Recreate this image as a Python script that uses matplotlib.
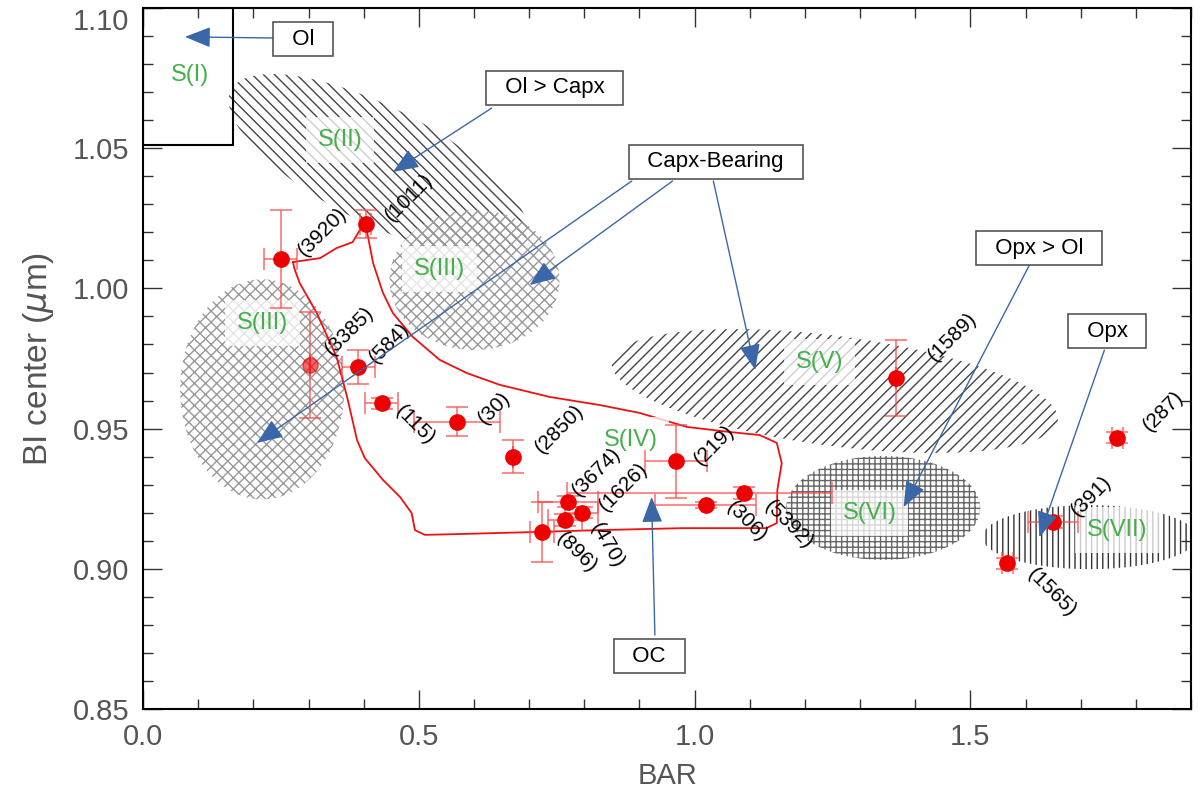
import numpy as np
import matplotlib
matplotlib.use('Agg')
import matplotlib.pyplot as plt
from matplotlib.patches import Polygon, Rectangle
from matplotlib.ticker import MultipleLocator, FormatStrFormatter

plt.rcParams['font.family'] = ['Liberation Sans', 'DejaVu Sans']
plt.rcParams['hatch.linewidth'] = 1.0

# --- asteroid points: BAR vs band I centre ---
names = ['3920', '1011', '3385', '584', '115', '30', '2850', '3674', '1626',
         '470', '896', '219', '306', '5392', '1589', '287', '391', '1565']
bar = [0.250, 0.404, 0.303, 0.390, 0.433, 0.569, 0.670, 0.770, 0.795,
       0.765, 0.723, 0.966, 1.020, 1.089, 1.366, 1.766, 1.650, 1.567]
bi = [1.0105, 1.023, 0.9727, 0.972, 0.959, 0.9524, 0.940, 0.924, 0.920,
      0.9174, 0.913, 0.9384, 0.9228, 0.927, 0.968, 0.9467, 0.9167, 0.902]
bar_err_lo = [0.03, 0.01, 0.0, 0.03, 0.03, 0.078, 0.0, 0.054, 0.03,
              0.03, 0.022, 0.056, 0.092, 0.32, 0.0, 0.01, 0.045, 0.01]
bar_err_hi = [0.03, 0.01, 0.0, 0.03, 0.03, 0.078, 0.0, 0.054, 0.03,
              0.03, 0.022, 0.056, 0.092, 0.16, 0.0, 0.01, 0.045, 0.01]
bi_err = [0.0175, 0.005, 0.019, 0.006, 0.002, 0.0052, 0.006, 0.002, 0.002,
          0.002, 0.0107, 0.013, 0.001, 0.002, 0.0135, 0.002, 0.002, 0.002]

# label placement (offset pixels, rotation)
lab_dx = [41, 43, 39, 31, 33, 37, 47, 29, 42, 42, 35, 38, 41, 45, 56, 46, 38, 44]
lab_dy = [27, 26, 34, 24, -22, 14, 28, 30, 26, -25, -20, 16, -17, -31, 41, 27, 26, -29]
lab_rot = [45, 45, 45, 45, -45, 45, 45, 45, 45, -60, -45, 45, -45, -45, 45, 45, 45, -45]

# --- S(IV) outline (OC field) ---
oc_x = [0.272, 0.321, 0.351, 0.380, 0.393, 0.404, 0.408, 0.417, 0.435, 0.453,
        0.489, 0.538, 0.587, 0.647, 0.737, 0.828, 0.900, 0.986, 1.063, 1.118,
        1.149, 1.158, 1.150, 1.149, 1.130, 0.978, 0.828, 0.707, 0.574, 0.511,
        0.493, 0.487, 0.466, 0.435, 0.402, 0.388, 0.370, 0.351, 0.315, 0.284,
        0.274, 0.272]
oc_y = [1.0094, 1.0108, 1.0144, 1.0165, 1.0208, 1.0223, 1.0183, 1.0091, 0.9984, 0.9912,
        0.9827, 0.9745, 0.9698, 0.9656, 0.9613, 0.9584, 0.9556, 0.9506, 0.9488, 0.9477,
        0.9449, 0.9377, 0.9281, 0.9163, 0.9145, 0.9145, 0.9138, 0.9131, 0.9124, 0.9121,
        0.9138, 0.9199, 0.9256, 0.9317, 0.9395, 0.9459, 0.9613, 0.9755, 0.9912, 1.0019,
        1.0073, 1.0094]

# --- hatched fields: centre, semi axes (px), tilt ---
reg_cx = [0.426, 0.601, 0.216, 1.254, 1.342, 1.716]
reg_cy = [1.044, 1.003, 0.964, 0.9634, 0.9217, 0.9113]
reg_a = [165, 85, 82, 225, 97, 107]
reg_b = [58, 70, 110, 55, 52, 32]
reg_ang = [-27, 0, 0, -7.5, 0, 0]
reg_hatch = ['\\\\\\', 'xxx', 'xxx', '///', '+++', '|||']
reg_col = ['#444444', '#999999', '#999999', '#444444', '#666666', '#333333']

s_names = ['S(I)', 'S(II)', 'S(III)', 'S(III)', 'S(IV)', 'S(V)', 'S(VI)', 'S(VII)']
s_x = [0.085, 0.357, 0.538, 0.216, 0.884, 1.226, 1.317, 1.766]
s_y = [1.076, 1.0529, 1.007, 0.9877, 0.946, 0.9737, 0.920, 0.9138]

# --- mineralogy boxes and arrows ---
box_text = ['Ol', 'Ol > Capx', 'Capx-Bearing', 'Opx > Ol', 'Opx', 'OC']
box_x = [0.290, 0.746, 1.038, 1.625, 1.748, 0.918]
box_y = [1.0889, 1.0715, 1.0451, 1.0144, 0.9848, 0.8689]
arr_x0 = [0.2355, 0.632, 0.886, 0.960, 1.034, 1.607, 1.743, 0.928]
arr_y0 = [1.0893, 1.0643, 1.0383, 1.0383, 1.0383, 1.0083, 0.978, 0.8764]
arr_x1 = [0.076, 0.453, 0.2065, 0.701, 1.110, 1.379, 1.625, 0.922]
arr_y1 = [1.0897, 1.0415, 0.9449, 1.0012, 0.9709, 0.922, 0.9113, 0.9256]

fig = plt.figure(figsize=(12, 8), dpi=100)
ax = fig.add_axes([0.1192, 0.11375, 0.8733, 0.87625])
ax.set_xlim(0, 1.9)
ax.set_ylim(0.85, 1.10)

# px per data unit, used to draw tilted ellipses in screen space
sx = 0.8733 * 1200 / 1.9
sy = 0.87625 * 800 / 0.25

t = np.linspace(0, 2 * np.pi, 240)
for i in range(len(reg_cx)):
    th = np.radians(reg_ang[i])
    u = reg_a[i] * np.cos(t)
    v = reg_b[i] * np.sin(t)
    ex = reg_cx[i] + (u * np.cos(th) - v * np.sin(th)) / sx
    ey = reg_cy[i] + (u * np.sin(th) + v * np.cos(th)) / sy
    p = Polygon(np.column_stack([ex, ey]), closed=True, fill=False,
                hatch=reg_hatch[i], edgecolor=reg_col[i], lw=0, zorder=1)
    ax.add_patch(p)

ax.add_patch(Rectangle((0, 1.051), 0.163, 0.049, fill=False, ec='black', lw=1.5, zorder=2))

ax.plot(oc_x, oc_y, color='#ee1111', lw=1.3, zorder=3)

for i in range(len(s_names)):
    ax.text(s_x[i], s_y[i], s_names[i], color='#44b04a', fontsize=17,
            ha='center', va='center', zorder=4,
            bbox=dict(boxstyle='square,pad=0.5', fc='white', ec='none', alpha=0.75))

ax.errorbar(bar, bi, xerr=[bar_err_lo, bar_err_hi], yerr=bi_err, fmt='none',
            ecolor='#ff4444', elinewidth=1.1, capsize=8, capthick=1.1, alpha=0.8, zorder=5)
alphas = [0.6 if n == '3385' else 1.0 for n in names]
for i in range(len(names)):
    ax.plot(bar[i], bi[i], 'o', color='#ee0000', ms=11, alpha=alphas[i], zorder=6)
    ax.annotate('(' + names[i] + ')', (bar[i], bi[i]), xytext=(lab_dx[i], lab_dy[i]),
                textcoords='offset pixels', rotation=lab_rot[i], fontsize=15,
                ha='center', va='center', rotation_mode='anchor', zorder=7)

for i in range(len(arr_x0)):
    ax.annotate('', xy=(arr_x1[i], arr_y1[i]), xytext=(arr_x0[i], arr_y0[i]),
                arrowprops=dict(arrowstyle='-|>,head_length=1.0,head_width=0.4',
                                mutation_scale=16, color='#3a67a8', lw=1,
                                shrinkA=0, shrinkB=0), zorder=8)

for i in range(len(box_text)):
    ax.text(box_x[i], box_y[i], '  ' + box_text[i] + '  ', fontsize=16, ha='center', va='center',
            zorder=9, bbox=dict(boxstyle='square,pad=0.3', fc='white', ec='#555555', lw=1.2))

ax.xaxis.set_major_locator(MultipleLocator(0.5))
ax.xaxis.set_minor_locator(MultipleLocator(0.1))
ax.yaxis.set_major_locator(MultipleLocator(0.05))
ax.yaxis.set_minor_locator(MultipleLocator(0.01))
ax.xaxis.set_major_formatter(FormatStrFormatter('%.1f'))
ax.yaxis.set_major_formatter(FormatStrFormatter('%.2f'))
ax.tick_params(which='both', direction='in', top=True, right=True, width=1, color='#333333')
ax.tick_params(which='major', length=14, labelsize=21, labelcolor='#555555', pad=10)
ax.tick_params(which='minor', length=7)
for s in ax.spines.values():
    s.set_linewidth(1.5)

ax.set_xlabel('BAR', fontsize=21, color='#555555', labelpad=8)
ax.set_ylabel(r'BI center ($\mu$m)', fontsize=24, color='#555555', labelpad=12)

# keep the top tick label inside the figure
fig.canvas.draw()
for tk in ax.yaxis.get_major_ticks():
    if abs(tk.get_loc() - 1.10) < 1e-6:
        tk.label1.set_va('top')
        tk.label1.set_y(1.10)

fig.savefig('out.png', dpi=100)
